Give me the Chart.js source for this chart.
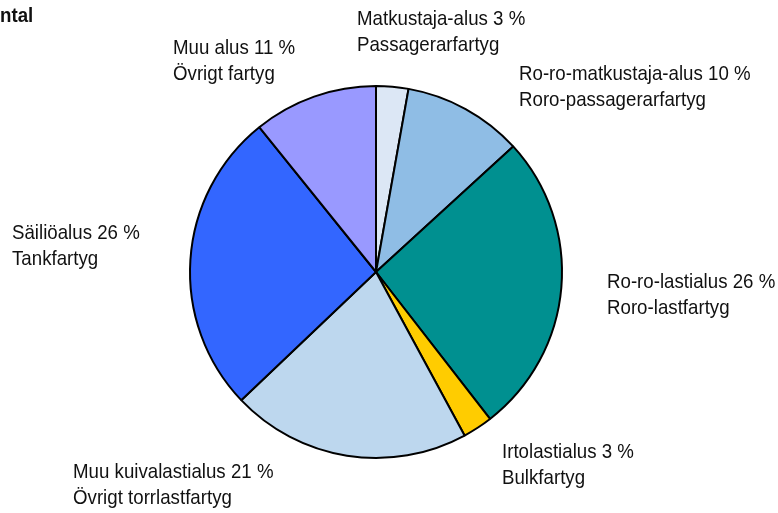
<!DOCTYPE html>
<html>
<head>
<meta charset="utf-8">
<script src="https://cdn.jsdelivr.net/npm/chart.js@4"></script>
<style>
  html, body { margin: 0; padding: 0; background: #fff; }
  #wrap { width: 778px; height: 513px; position: relative; }
</style>
</head>
<body>
<div id="wrap"><canvas id="chart" width="778" height="513"></canvas></div>
<script>
// Vessel types (Finnish / Swedish) and share of ships
const namesFi = ['Matkustaja-alus', 'Ro-ro-matkustaja-alus', 'Ro-ro-lastialus', 'Irtolastialus',
    'Muu kuivalastialus', 'Säiliöalus', 'Muu alus'];
const namesSv = ['Passagerarfartyg', 'Roro-passagerarfartyg', 'Roro-lastfartyg', 'Bulkfartyg',
    'Övrigt torrlastfartyg', 'Tankfartyg', 'Övrigt fartyg'];
const shares = [2.8, 10.4, 26.3, 2.6, 20.8, 26.3, 10.8];
const shareLabels = [3, 10, 26, 3, 21, 26, 11];
const sliceColors = ['#dce7f5', '#8fbde5', '#009090', '#ffcc00', '#bdd7ee', '#3366ff', '#9999ff'];

// label anchor offsets from pie centre (left edge, first line middle)
const labelOffsets = [
    [-19, -253], [143, -198], [231, 10], [126, 180],
    [-303, 200], [-364, -39], [-203, -224]
];

const FONT = '"Liberation Sans", Arial, sans-serif';
const NARROW = 0.89; // squeeze horizontally to mimic the condensed face

const labelPlugin = {
    id: 'sliceLabels',
    afterDraw(chart) {
        const ctx = chart.ctx;
        const arc = chart.getDatasetMeta(0).data[0];
        const cx = arc.x, cy = arc.y;
        ctx.save();
        ctx.fillStyle = '#111';
        ctx.textBaseline = 'middle';
        ctx.textAlign = 'left';
        namesFi.forEach((name, i) => {
            const x = cx + labelOffsets[i][0];
            const y = cy + labelOffsets[i][1];
            ctx.save();
            ctx.translate(x, 0);
            ctx.scale(NARROW, 1);
            ctx.font = '21px ' + FONT;
            ctx.fillText(name + ' ' + shareLabels[i] + ' %', 0, y);
            ctx.fillText(namesSv[i], 0, y + 26);
            ctx.restore();
        });
        // cropped heading at top-left
        ctx.scale(NARROW, 1);
        ctx.font = 'bold 21px ' + FONT;
        ctx.fillText('ntal', 0, 16);
        ctx.restore();
    }
};

new Chart(document.getElementById('chart'), {
    type: 'pie',
    data: {
        labels: namesFi,
        datasets: [{
            data: shares,
            backgroundColor: sliceColors,
            borderColor: '#000000',
            borderWidth: 2
        }]
    },
    options: {
        responsive: false,
        animation: false,
        layout: { padding: { left: 0, right: 26, top: 85, bottom: 54 } },
        plugins: {
            legend: { display: false },
            tooltip: { enabled: false }
        }
    },
    plugins: [labelPlugin]
});
</script>
</body>
</html>
